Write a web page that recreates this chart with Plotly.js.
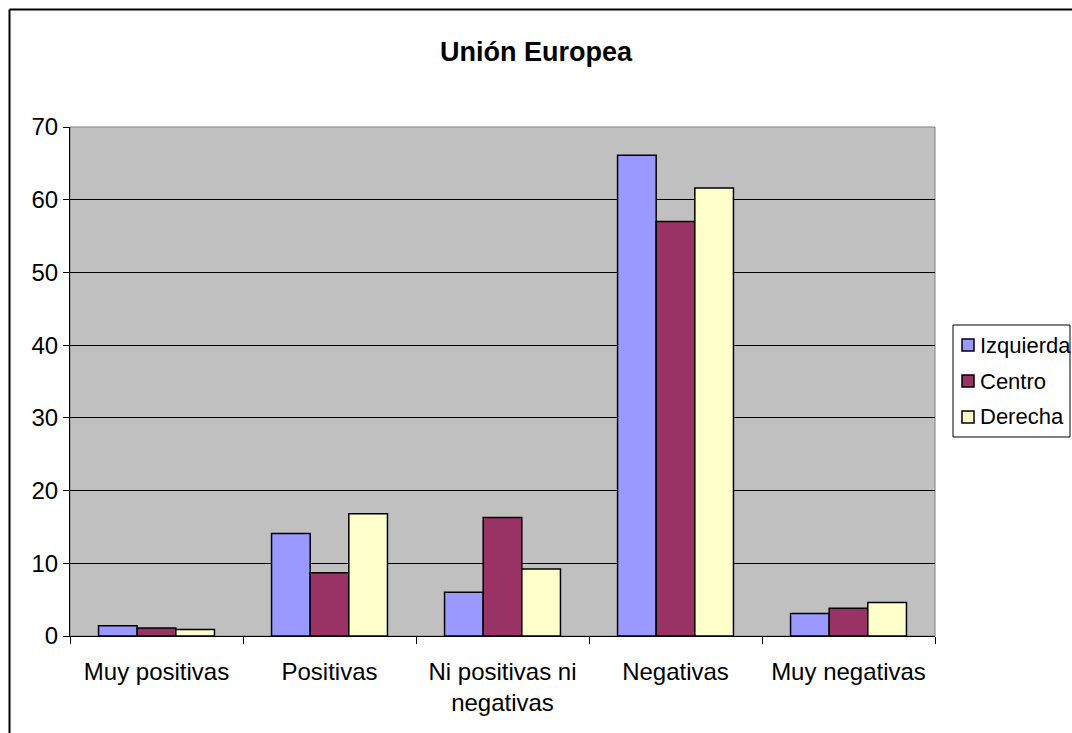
<!DOCTYPE html>
<html>
<head>
<meta charset="utf-8">
<script src="https://cdn.plot.ly/plotly-3.0.1.min.js"></script>
<style>html,body{margin:0;padding:0;background:#fff;}#chart{width:1072px;height:733px;}</style>
</head>
<body>
<div id="chart"></div>
<script>
const categories = ["Muy positivas", "Positivas", "Ni positivas ni<br>negativas", "Negativas", "Muy negativas"];
const izquierda = [1.4, 14.1, 6.0, 66.1, 3.1];
const centro = [1.1, 8.7, 16.3, 57.0, 3.8];
const derecha = [0.9, 16.8, 9.2, 61.6, 4.6];
const seriesNames = ["Izquierda", "Centro", "Derecha"];
const yTicks = [0, 10, 20, 30, 40, 50, 60, 70];

const colors = ["#9999ff", "#993366", "#ffffcc"];
const data = [izquierda, centro, derecha].map((vals, i) => ({
  type: "bar",
  name: seriesNames[i],
  x: categories,
  y: vals,
  showlegend: false,
  marker: {color: colors[i], line: {color: "#000", width: 1.5}}
}));

// plot area in pixels: x 70..935, y 127..636
const px = v => (v - 70) / 865;
const py = v => (636 - v) / 509;

const shapes = [
  {type: "rect", xref: "paper", yref: "paper", x0: 0, x1: 1, y0: 0, y1: 1, line: {color: "#808080", width: 1}, layer: "below"},
  {type: "line", xref: "paper", yref: "paper", x0: px(9.5), x1: px(9.5), y0: -0.3, y1: py(9.5), line: {color: "#000", width: 2}},
  {type: "line", xref: "paper", yref: "paper", x0: px(9.5), x1: 1.3, y0: py(9.5), y1: py(9.5), line: {color: "#000", width: 2}},
  {type: "rect", xref: "paper", yref: "paper", x0: px(953), x1: px(1070), y0: py(437), y1: py(325), line: {color: "#000", width: 1}, fillcolor: "#fff"}
];
const annotations = [];
seriesNames.forEach((name, i) => {
  const cy = 345 + 36 * i;
  shapes.push({type: "rect", xref: "paper", yref: "paper", x0: px(962), x1: px(974), y0: py(cy + 6), y1: py(cy - 6),
    line: {color: "#000", width: 1.5}, fillcolor: colors[i]});
  annotations.push({xref: "paper", yref: "paper", x: px(978), y: py(cy), xanchor: "left", yanchor: "middle",
    text: name, showarrow: false, font: {size: 22}});
});

const layout = {
  width: 1072, height: 733,
  margin: {l: 70, r: 137, t: 127, b: 97},
  paper_bgcolor: "#fff",
  plot_bgcolor: "#c0c0c0",
  font: {family: "Liberation Sans, Arial, sans-serif", size: 22, color: "#000"},
  title: {text: "<b>Unión Europea</b>", font: {size: 27}, x: 0.5, xanchor: "center", y: 0.929, yanchor: "middle"},
  bargap: 0.33,
  bargroupgap: 0,
  showlegend: false,
  xaxis: {
    type: "category",
    showline: true, linecolor: "#000", linewidth: 1,
    ticks: "outside", tickson: "boundaries", ticklen: 7, tickcolor: "#000",
    showgrid: false, zeroline: false,
    tickfont: {size: 24}, ticklabelstandoff: 14, automargin: false
  },
  yaxis: {
    range: [0, 70], tickvals: yTicks,
    showline: true, linecolor: "#000", linewidth: 1,
    ticks: "outside", ticklen: 6, tickcolor: "#000",
    showgrid: true, gridcolor: "#000", gridwidth: 1,
    zeroline: false, tickfont: {size: 24}, automargin: false
  },
  shapes: shapes,
  annotations: annotations
};

Plotly.newPlot("chart", data, layout, {displayModeBar: false, staticPlot: true});
</script>
</body>
</html>
